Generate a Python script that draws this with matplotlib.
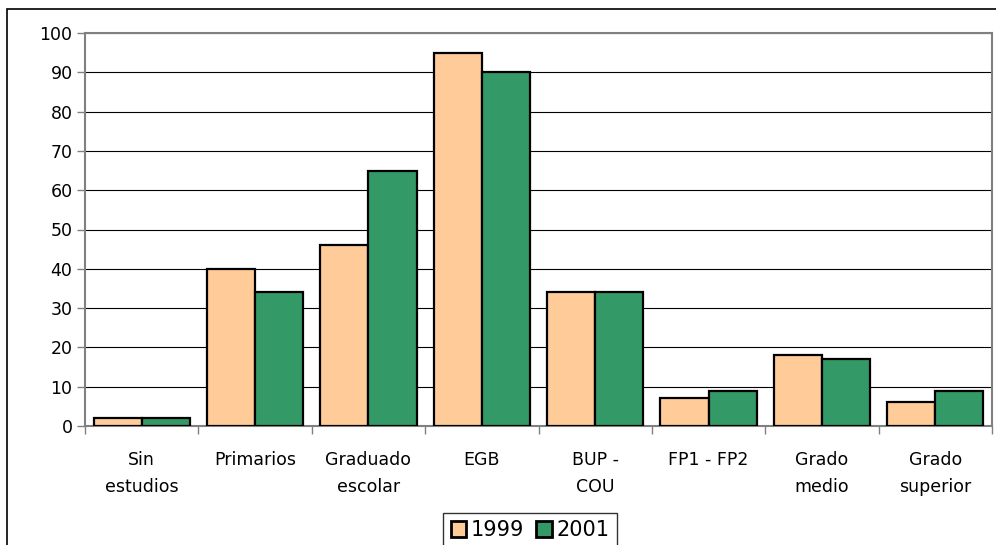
import numpy as np
import matplotlib
matplotlib.use("Agg")
import matplotlib.pyplot as plt
from matplotlib.patches import Rectangle

categories = ["Sin\nestudios", "Primarios", "Graduado\nescolar", "EGB",
              "BUP -\nCOU", "FP1 - FP2", "Grado\nmedio", "Grado\nsuperior"]
vals_1999 = [2, 40, 46, 95, 34, 7, 18, 6]
vals_2001 = [2, 34, 65, 90, 34, 9, 17, 9]
yticks = [0, 10, 20, 30, 40, 50, 60, 70, 80, 90, 100]

W, H = 996, 545
fig = plt.figure(figsize=(W / 100, H / 100), dpi=100)

# outer chart border (cut off on right and bottom)
fig.patches.append(Rectangle((7 / W, -0.1), 1.2, 1 - 9 / H + 0.1,
                             transform=fig.transFigure, fill=False,
                             edgecolor="black", linewidth=1.2))

ax = fig.add_axes([85 / W, 1 - 426 / H, (992 - 85) / W, (426 - 33) / H])

x = np.arange(len(categories))
bw = 0.425
ax.bar(x - bw / 2, vals_1999, bw, color="#FFCC99", edgecolor="black",
       linewidth=1.6, label="1999", zorder=3)
ax.bar(x + bw / 2, vals_2001, bw, color="#339966", edgecolor="black",
       linewidth=1.6, label="2001", zorder=3)

ax.set_xlim(-0.5, len(categories) - 0.5)
ax.set_ylim(0, 100)
ax.set_yticks(yticks)
ax.grid(axis="y", color="black", linewidth=0.8, zorder=0)

ax.set_xticks(x)
ax.set_xticklabels(categories, fontsize=12.5, linespacing=1.65)
ax.set_xticks(np.arange(-0.5, len(categories)), minor=True)
ax.tick_params(axis="x", which="major", length=0, pad=18)
ax.tick_params(axis="x", which="minor", length=6, color="#808080", width=1)
ax.tick_params(axis="y", labelsize=12.5, length=6, color="#808080", width=1, pad=3)

for s in ax.spines.values():
    s.set_color("#808080")
    s.set_linewidth(1.5)

leg = fig.legend(loc="upper center", bbox_to_anchor=(530 / W, 1 - 513 / H),
                 ncol=2, fontsize=15, frameon=True, fancybox=False,
                 handlelength=0.75, handleheight=0.75, handletextpad=0.2,
                 columnspacing=0.6, borderpad=0.35, borderaxespad=0)
leg.get_frame().set_edgecolor("black")
leg.get_frame().set_linewidth(1)
for h in leg.legend_handles:
    h.set_linewidth(2)

plt.savefig("out.png", dpi=100)
